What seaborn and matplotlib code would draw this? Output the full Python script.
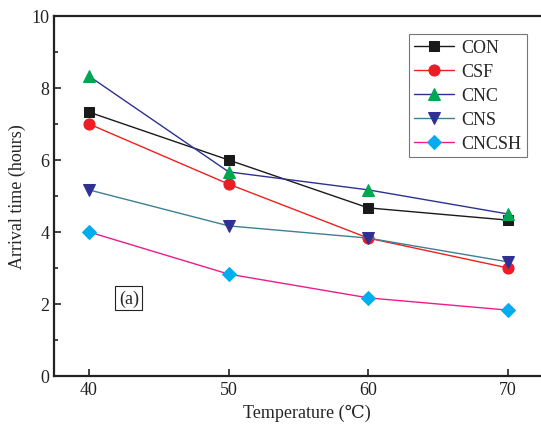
import matplotlib
matplotlib.use("Agg")
import matplotlib.pyplot as plt
import seaborn as sns
import pandas as pd

temps = [40, 50, 60, 70]
con = [7.33, 6.0, 4.67, 4.33]
csf = [7.0, 5.33, 3.83, 3.0]
cnc = [8.33, 5.67, 5.17, 4.5]
cns = [5.17, 4.17, 3.83, 3.17]
cncsh = [4.0, 2.83, 2.17, 1.83]
series_names = ["CON", "CSF", "CNC", "CNS", "CNCSH"]

sns.set_style("ticks")
plt.rcParams['font.family'] = ['Liberation Serif', 'DejaVu Serif']
plt.rcParams['mathtext.fontset'] = 'stix'

rows = []
for name, vals in zip(series_names, [con, csf, cnc, cns, cncsh]):
    for t, v in zip(temps, vals):
        rows.append({"Temperature": t, "Arrival": v, "Series": name})
df = pd.DataFrame(rows)

line_colors = {"CON": "#1a1a1a", "CSF": "#f02020", "CNC": "#2e3192", "CNS": "#3f7f95", "CNCSH": "#ec1c8c"}
marker_face = {"CON": "#1a1a1a", "CSF": "#ee1c25", "CNC": "#00a651", "CNS": "#2e3192", "CNCSH": "#00aeef"}
markers = {"CON": "s", "CSF": "o", "CNC": "^", "CNS": "v", "CNCSH": "D"}
msize = {"CON": 7, "CSF": 8, "CNC": 9, "CNS": 9, "CNCSH": 7}

fig = plt.figure(figsize=(5.41, 4.27), dpi=100)
x0, x1 = 54, 560
ax = fig.add_axes([x0/541, 1 - 377/427, (x1 - x0)/541, (377 - 17)/427])

for name in series_names:
    sub = df[df["Series"] == name]
    sns.lineplot(data=sub, x="Temperature", y="Arrival", ax=ax,
                 color=line_colors[name], marker=markers[name], markersize=msize[name],
                 markerfacecolor=marker_face[name], markeredgecolor=marker_face[name],
                 linewidth=1.0, label=name)

# 40 at px 89, 70 at px 508
ppu = (508 - 89) / 30
ax.set_xlim(40 - (89 - x0)/ppu, 40 + (x1 - 89)/ppu)
ax.set_ylim(0, 10)
ax.set_xticks(temps)
ax.set_yticks([0, 2, 4, 6, 8, 10])
ax.set_yticks([1, 3, 5, 7, 9], minor=True)
ax.tick_params(axis='both', which='major', direction='in', length=5, width=1.2, labelsize=13, colors='#222222')
ax.tick_params(axis='y', which='minor', direction='in', length=3, width=1.2)
for s in ax.spines.values():
    s.set_linewidth(1.6)
    s.set_color('#222222')
ax.set_xlabel("Temperature (\u2103)", fontsize=13)
ax.set_ylabel("Arrival time (hours)", fontsize=13)

ax.text(42.85, 2.17, "(a)", fontsize=13, ha='center', va='center',
        bbox=dict(boxstyle='square,pad=0.2', facecolor='white', edgecolor='#222222', linewidth=0.8))

leg = ax.legend(loc='upper left', bbox_to_anchor=((409 - x0)/(x1 - x0), 1 - (35 - 17)/360),
                borderaxespad=0.0,
                fontsize=13, frameon=True, fancybox=False, edgecolor='#555555',
                handlelength=2.2, borderpad=0.3, labelspacing=0.38, handletextpad=0.4)
leg.get_frame().set_linewidth(0.8)

fig.savefig("out.png", dpi=100)
